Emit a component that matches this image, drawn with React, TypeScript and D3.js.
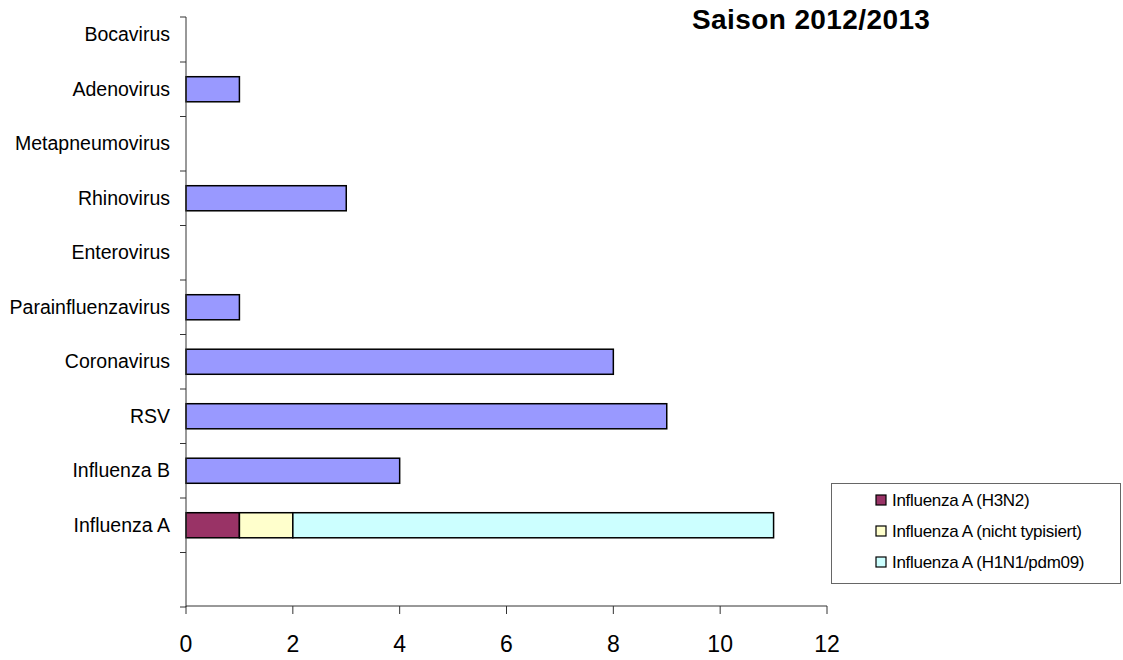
import * as d3 from 'd3';

// categories from top to bottom (last one is the empty slot under Influenza A)
const categories = [
  'Bocavirus',
  'Adenovirus',
  'Metapneumovirus',
  'Rhinovirus',
  'Enterovirus',
  'Parainfluenzavirus',
  'Coronavirus',
  'RSV',
  'Influenza B',
  'Influenza A',
  '',
];
const otherViruses = [0, 1, 0, 3, 0, 1, 8, 9, 4, 0, 0];
const fluH3N2 = [0, 0, 0, 0, 0, 0, 0, 0, 0, 1, 0];
const fluUntyped = [0, 0, 0, 0, 0, 0, 0, 0, 0, 1, 0];
const fluH1N1 = [0, 0, 0, 0, 0, 0, 0, 0, 0, 9, 0];

const xTicks = [0, 2, 4, 6, 8, 10, 12];
const seriesKeys = ['other', 'h3n2', 'untyped', 'h1n1'];
const seriesColors = ['#9999FF', '#993366', '#FFFFCC', '#CCFFFF'];
const legendKeys = ['h3n2', 'untyped', 'h1n1'];
const legendLabels = ['Influenza A (H3N2)', 'Influenza A (nicht typisiert)', 'Influenza A (H1N1/pdm09)'];

const title = 'Saison 2012/2013';
const FONT = "Arial, 'Liberation Sans', sans-serif";

const W = 1123;
const H = 660;
const plot = { left: 186, right: 827, top: 17, bottom: 607 };

export default function App() {
  const rows = categories.map((c, i) => ({
    cat: c,
    other: otherViruses[i],
    h3n2: fluH3N2[i],
    untyped: fluUntyped[i],
    h1n1: fluH1N1[i],
  }));

  const stack = d3.stack<any>().keys(seriesKeys);
  const layers = stack(rows);

  const x = d3.scaleLinear().domain([0, 12]).range([plot.left, plot.right]);
  // band range starts a little above the visible axis top, like the original
  const y = d3.scaleBand().domain(categories).range([7.5, plot.bottom]).paddingInner(0);
  const barH = y.bandwidth() * 0.46;

  const yTickPos = [plot.top, ...categories.map((c) => (y(c) as number) + y.bandwidth())];

  return (
    <div style={{ position: 'absolute', left: 0, top: 0 }}>
      <svg width={W} height={H} style={{ display: 'block', background: '#fff' }} fontFamily={FONT}>
        {/* bars */}
        {layers.map((layer, li) =>
          layer.map((d, i) => {
            const v = d[1] - d[0];
            if (!v) return null;
            const yc = (y(categories[i]) as number) + y.bandwidth() / 2;
            return (
              <rect
                key={`${li}-${i}`}
                x={x(d[0])}
                y={yc - barH / 2}
                width={x(d[1]) - x(d[0])}
                height={barH}
                fill={seriesColors[li]}
                stroke="#000"
                strokeWidth={1.5}
              />
            );
          })
        )}

        {/* y axis */}
        <line x1={plot.left} x2={plot.left} y1={plot.top} y2={plot.bottom} stroke="#333" />
        {yTickPos.map((p, i) => (
          <line key={i} x1={plot.left - 6} x2={plot.left} y1={p} y2={p} stroke="#333" />
        ))}
        {categories.map((c) => (
          <text
            key={c}
            x={170}
            y={(y(c) as number) + y.bandwidth() / 2}
            dy="0.33em"
            textAnchor="end"
            fontSize={19.5}
            fill="#000"
          >
            {c}
          </text>
        ))}

        {/* x axis */}
        <line x1={plot.left} x2={plot.right} y1={plot.bottom - 1} y2={plot.bottom - 1} stroke="#333" />
        {xTicks.map((t) => (
          <g key={t}>
            <line x1={x(t)} x2={x(t)} y1={plot.bottom - 1} y2={plot.bottom + 7} stroke="#333" />
            <text x={x(t)} y={652} textAnchor="middle" fontSize={23} fill="#000">
              {t}
            </text>
          </g>
        ))}

        {/* title */}
        <text x={692} y={29} fontSize={28} fontWeight="bold" letterSpacing={0.4} fill="#000">
          {title}
        </text>

        {/* legend */}
        <rect x={831.5} y={483.5} width={289} height={100} fill="#fff" stroke="#666" />
        {legendKeys.map((k, i) => (
          <g key={k} transform={`translate(876, ${500 + i * 31})`}>
            <rect x={0} y={-5} width={10} height={10} fill={seriesColors[seriesKeys.indexOf(k)]} stroke="#000" strokeWidth={1.2} />
            <text x={16} y={0} dy="0.35em" fontSize={17} letterSpacing={-0.3} fill="#000">
              {legendLabels[i]}
            </text>
          </g>
        ))}
      </svg>
    </div>
  );
}
